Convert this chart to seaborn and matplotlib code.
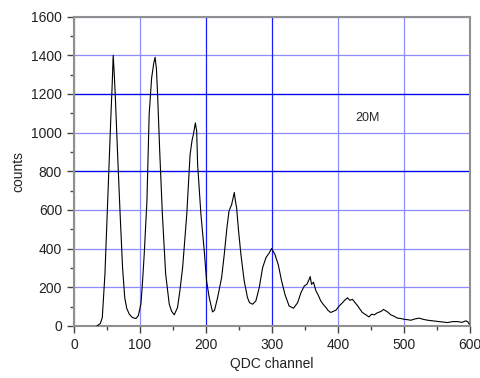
import matplotlib
matplotlib.use("Agg")
import matplotlib.pyplot as plt
import seaborn as sns
import pandas as pd
from matplotlib.ticker import MultipleLocator

# QDC spectrum (channel, counts)
channel = [35, 40, 43, 47, 48.5, 51, 53.5, 56, 58, 59.5, 61, 62.6, 66, 70, 73.7,
           77, 80, 84, 88, 91, 94, 97.5, 101.5, 104, 106.5, 110.6, 114, 117.7,
           121, 123, 125, 126.8, 130, 134, 139, 144.4, 148, 152, 157, 160.5,
           164.7, 171, 176, 179, 181, 184, 186, 187.4, 192.4, 197.5, 201, 205,
           210, 213, 217.7, 223.8, 227.8, 231.8, 235, 239, 241, 243, 244.5,
           246.5, 249.5, 253, 258, 263, 266, 270.7, 275.7, 280.8, 285.9, 291,
           296, 299.5, 302, 304.5, 309.5, 314.7, 319.7, 326, 332.8, 339, 344,
           349, 353, 356.5, 358, 360, 363, 366.7, 370, 374, 378, 381.8, 385,
           389, 393, 397, 402, 407, 411, 414.7, 418, 422, 426, 430, 437, 442,
           447, 451, 455, 460, 465, 469, 472.7, 476, 480, 485, 490, 495, 500,
           505, 510.6, 516, 523, 530, 536, 543, 551, 558, 566, 574, 581, 588,
           594, 597, 599]
counts = [0, 12, 43, 268, 404, 640, 852, 1084, 1250, 1400, 1310, 1197, 903, 578,
          301, 146, 90, 60, 45, 40, 38, 52, 113, 230, 370, 645, 1093, 1282, 1360,
          1390, 1330, 1195, 903, 578, 268, 113, 75, 57, 95, 180, 301, 578, 886,
          960, 990, 1050, 1007, 836, 578, 387, 232, 146, 72, 80, 146, 250, 370,
          507, 594, 628, 660, 690, 650, 611, 490, 370, 232, 146, 120, 112, 129,
          198, 301, 353, 378, 400, 385, 370, 318, 232, 163, 103, 91, 120, 172,
          206, 215, 241, 255, 215, 225, 181, 160, 129, 110, 95, 80, 69, 75, 81,
          103, 120, 135, 145, 132, 137, 120, 103, 69, 58, 46, 60, 57, 68, 74, 85,
          77, 70, 57, 50, 40, 38, 34, 32, 29, 35, 40, 33, 29, 26, 22, 20, 17, 22,
          22, 18, 26, 20, 9]

# grid lines that are drawn darker in the original
dark_x = [200, 300]
dark_y = [800, 1200]

df = pd.DataFrame({"channel": channel, "counts": counts})

sns.set_style("white")
plt.rcParams["font.family"] = ["Liberation Sans", "DejaVu Sans"]

fig = plt.figure(figsize=(4.8, 3.78), dpi=100)
ax = fig.add_axes([0.154, 0.138, 0.825, 0.818])

ax.set_xlim(0, 600)
ax.set_ylim(0, 1600)
ax.xaxis.set_major_locator(MultipleLocator(100))
ax.xaxis.set_minor_locator(MultipleLocator(50))
ax.yaxis.set_major_locator(MultipleLocator(200))
ax.yaxis.set_minor_locator(MultipleLocator(100))

ax.grid(True, which="major", color="#8c8cff", lw=0.9)
for x in dark_x:
    ax.axvline(x, color="#1a1aff", lw=0.8, zorder=1)
for y in dark_y:
    ax.axhline(y, color="#0000ee", lw=0.9, zorder=1)
ax.set_axisbelow(True)

sns.lineplot(data=df, x="channel", y="counts", ax=ax, color="black",
             lw=0.8, zorder=3)

ax.text(427, 1060, "20M", fontsize=9)

ax.set_xlabel("QDC channel", fontsize=10, color="#222222")
ax.set_ylabel("counts", fontsize=10, color="#222222")
ax.tick_params(which="major", direction="out", length=5, width=1,
               color="#444444", labelsize=10, labelcolor="#222222")
ax.tick_params(which="minor", direction="out", length=3, width=1,
               color="#444444")
ax.tick_params(axis="x", bottom=True, which="both")
ax.tick_params(axis="y", left=True, which="both")

for s in ax.spines.values():
    s.set_color("#909090")
    s.set_linewidth(1.5)

fig.savefig("out.png", dpi=100)
